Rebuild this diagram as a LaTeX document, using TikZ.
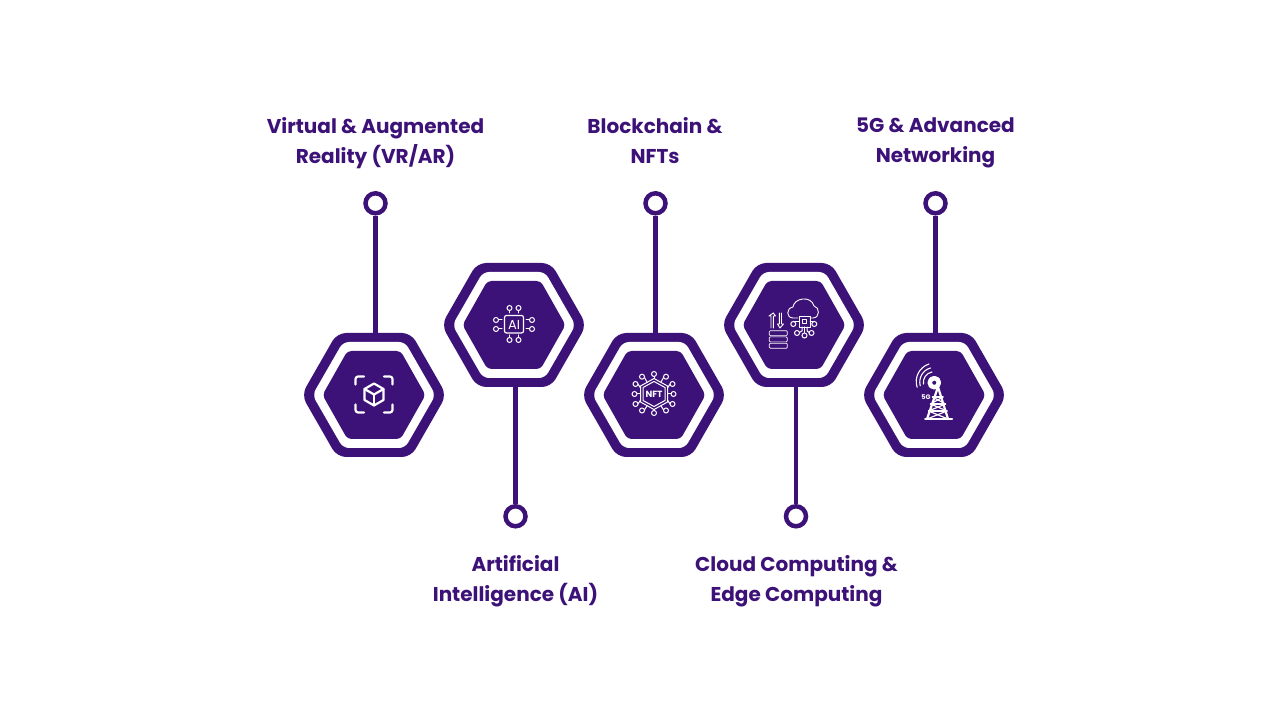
\documentclass[tikz,border=0pt]{standalone}
\usepackage{fontspec}
\setmainfont{Poppins}
\usetikzlibrary{arrows.meta,calc}

\definecolor{hexpurple}{HTML}{3D1278}
\newcommand{\hexpath}[3]{(-#1,0) -- (-#2,#3) -- (#2,#3) -- (#1,0) -- (#2,-#3) -- (-#2,-#3) -- cycle}

\tikzset{
  x=1pt,y=1pt,
  hexbox/.style={rectangle,minimum width=140pt,minimum height=124pt,inner sep=0pt},
  pics/hexa/.style={code={
    \node[hexbox] (-box) {};
    \fill[hexpurple,rounded corners=9pt] \hexpath{72.5}{37}{62};
    \fill[white,rounded corners=6pt] \hexpath{61.5}{31}{53};
    \fill[hexpurple,rounded corners=4pt] \hexpath{51.5}{26.6}{44};
  }},
  pinring/.style={circle,draw=hexpurple,fill=white,line width=4.5pt,minimum size=20pt,inner sep=0pt},
  stem/.style={draw=hexpurple,line width=4.4pt},
  title/.style={text=hexpurple,align=center,font=\fontsize{20}{30}\selectfont\bfseries,
    inner sep=0pt,execute at begin node=\strut,execute at end node=\strut},
  icon/.style={draw=white,line width=1.2pt,line cap=round,line join=round},
  wire/.style={icon,line width=1pt,-{Circle[open,fill=hexpurple,length=6pt,width=6pt,line width=1pt]}},
}

\begin{document}
\begin{tikzpicture}
  \useasboundingbox (0,0) rectangle (1280,720);

  \pic (vr) at (374,325) {hexa};
  \pic (ai) at (514,395) {hexa};
  \pic (nft) at (654,325) {hexa};
  \pic (cloud) at (794,395) {hexa};
  \pic (fiveg) at (934,325) {hexa};

  \node[pinring] (vrpin) at (375.5,516.7) {};
  \node[pinring] (aipin) at (515.5,203.7) {};
  \node[pinring] (nftpin) at (655.5,516.7) {};
  \node[pinring] (cloudpin) at (796,203.7) {};
  \node[pinring] (fivegpin) at (935.5,516.7) {};

  \draw[stem] (vrpin) -- (vrpin |- vr-box.north);
  \draw[stem] (aipin) -- (aipin |- ai-box.south);
  \draw[stem] (nftpin) -- (nftpin |- nft-box.north);
  \draw[stem] (cloudpin) -- (cloudpin |- cloud-box.south);
  \draw[stem] (fivegpin) -- (fivegpin |- fiveg-box.north);

  \node[title] (vrtitle) at (375.5,575.5) {Virtual \& Augmented\\Reality (VR/AR)};
  \node[title] (aititle) at (515.5,137.5) {Artificial\\Intelligence (AI)};
  \node[title] (nfttitle) at (655,575.5) {Blockchain \&\\NFTs};
  \node[title] (cloudtitle) at (796.5,137.5) {Cloud Computing \&\\Edge Computing};
  \node[title] (fivegtitle) at (935.5,575.5) {5G \& Advanced\\Networking};

  % cube in a frame
  \begin{scope}[shift={(374,325.5)},icon,line width=2.2pt]
    \draw[rounded corners=2.5pt] (-18.5,10) -- (-18.5,18) -- (-10,18);
    \draw[rounded corners=2.5pt] (10,18) -- (18.5,18) -- (18.5,10);
    \draw[rounded corners=2.5pt] (-18.5,-10) -- (-18.5,-18) -- (-10,-18);
    \draw[rounded corners=2.5pt] (10,-18) -- (18.5,-18) -- (18.5,-10);
    \draw (0,11) -- (9.5,5.5) -- (9.5,-5.5) -- (0,-11) -- (-9.5,-5.5) -- (-9.5,5.5) -- cycle;
    \draw (-9.5,5.5) -- (0,0) -- (9.5,5.5);
    \draw (0,0) -- (0,-11);
  \end{scope}

  % chip with pins
  \begin{scope}[shift={(514,396)},icon]
    \draw[rounded corners=2pt] (-9.5,-9) rectangle (9.5,8.5);
    \node[text=white,font=\fontsize{13}{13}\selectfont] (aichip) at (0,-0.5) {AI};
    \draw[wire] (-4.5,11) -- (-4.5,19);
    \draw[wire] (4.5,11) -- (4.5,19);
    \draw[wire] (-4.5,-11) -- (-4.5,-19);
    \draw[wire] (4.5,-11) -- (4.5,-19);
    \draw[wire] (-12,4) -- (-21,4);
    \draw[wire] (-12,-5) -- (-21,-5);
    \draw[wire] (12,4) -- (21,4);
    \draw[wire] (12,-5) -- (21,-5);
  \end{scope}

  % nft hexagon
  \begin{scope}[shift={(654,326)},icon,line width=1pt]
    \draw (0,15.5) -- (13.5,8) -- (13.5,-8) -- (0,-15.5) -- (-13.5,-8) -- (-13.5,8) -- cycle;
    \draw (0,12.5) -- (11,6.5) -- (11,-6.5) -- (0,-12.5) -- (-11,-6.5) -- (-11,6.5) -- cycle;
    \node[text=white,font=\fontsize{9}{9}\selectfont\bfseries] (nftchip) at (0,0) {NFT};
    \draw[wire] (0,15.5) -- (0,23);
    \draw[wire] (0,-15.5) -- (0,-22);
    \draw[wire] (13.5,0) -- (22.5,0);
    \draw[wire] (-13.5,0) -- (-22.5,0);
    \draw[wire] (-7,12) -- (-10,17.3) -- (-15,17.3);
    \draw[wire] (7,12) -- (10,17.3) -- (15,17.3);
    \draw[wire] (-13.5,6) -- (-16,10) -- (-21.5,10);
    \draw[wire] (13.5,6) -- (16,10) -- (21.5,10);
    \draw[wire] (-13.5,-6) -- (-16,-10) -- (-21.5,-10);
    \draw[wire] (13.5,-6) -- (16,-10) -- (21.5,-10);
    \draw[wire] (-7,-12) -- (-10,-16.5) -- (-15,-16.5);
    \draw[wire] (7,-12) -- (10,-16.5) -- (15,-16.5);
  \end{scope}

  % cloud, chip, arrows and servers
  \begin{scope}[shift={(794,395)},icon,line width=0.9pt]
    \draw (4,7) -- (-1,7) .. controls (-8,7) and (-8,17) .. (-1,18) .. controls (0,27) and (17,30) .. (20,19)
      .. controls (26,18) and (26,7) .. (19,7) -- (16,7);
    \draw (5,-2) rectangle (16,9);
    \draw (8.5,1.5) rectangle (12.5,5.5);
    \draw[wire] (5,3) -- (-0.7,3) -- (-0.7,-2);
    \draw[wire] (8,-2) -- (8,-6) -- (4,-8) -- (0,-8);
    \draw[wire] (10.5,-2) -- (10.5,-13.5);
    \draw[wire] (13,-2) -- (13,-6) -- (16,-8) -- (20.5,-8);
    \draw[wire] (16,3) -- (20.3,3) -- (20.3,-2);
    \draw (-23,-3) -- (-23,9) -- (-25,9) -- (-20.7,12) ;
    \draw (-20.7,12) -- (-18.5,9) -- (-20.7,9) -- (-20.7,-3);
    \draw (-12.5,12) -- (-12.5,1) -- (-10.5,1) -- (-14,-3) -- (-16.5,1) -- (-14.7,1) -- (-14.7,12);
    \draw[rounded corners=1pt,line width=0.7pt] (-24.7,-5.7) rectangle (-6.7,-10.7);
    \draw[rounded corners=1pt,line width=0.7pt] (-24.7,-11.9) rectangle (-6.7,-16.9);
    \draw[rounded corners=1pt,line width=0.7pt] (-24.7,-18.3) rectangle (-6.7,-23.3);
  \end{scope}

  % tower
  \begin{scope}[shift={(934,325)},icon]
    \draw[line width=4.5pt] (0.3,12.3) circle (4.6pt);
    \draw[line width=1.1pt] (-2,23) arc (100:190:10.5);
    \draw[line width=1.1pt] (-3.5,27) arc (105:195:14.5);
    \draw[line width=1.1pt] (-5,31) arc (108:198:18.5);
    \node[text=white,font=\fontsize{6.5}{6.5}\selectfont\bfseries] (fivegchip) at (-8,-2.3) {5G};
    \draw[line width=2.2pt] (-7,-24) -- (4,8) -- (14,-24);
    \draw[line width=2pt] (-9,-24) -- (18,-24);
    \draw (-1.5,-2) -- (9,-2);
    \draw (-3.5,-9) -- (11.5,-9);
    \draw (-5.5,-16) -- (13,-16);
    \draw (-1.5,-2) -- (11.5,-9) -- (-5.5,-16) -- (14,-24);
    \draw (9,-2) -- (-3.5,-9) -- (13,-16) -- (-7,-24);
  \end{scope}
\end{tikzpicture}
\end{document}
